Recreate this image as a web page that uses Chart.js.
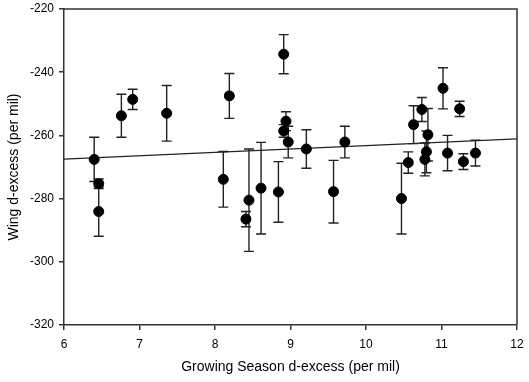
<!DOCTYPE html>
<html>
<head>
<meta charset="utf-8">
<script src="https://cdn.jsdelivr.net/npm/chart.js@4.4.1/dist/chart.umd.min.js"></script>
<style>
  html, body { margin: 0; padding: 0; background: #fff; }
  #wrap { width: 529px; height: 382px; position: relative; }
</style>
</head>
<body>
<div id="wrap"><canvas id="grafico"></canvas></div>
<script>
// growing season d-excess (x), wing d-excess (y) and its error (+/-)
const seasonX = [6.40, 6.46, 6.46, 6.76, 6.91, 7.36, 8.11, 8.19, 8.41, 8.45, 8.61, 8.84, 8.91, 8.91, 8.94, 8.97,
  9.21, 9.57, 9.72, 10.47, 10.56, 10.63, 10.74, 10.78, 10.80, 10.82, 11.02, 11.08, 11.24, 11.29, 11.45];
const wingY = [-267.6, -275.3, -284.1, -253.8, -248.6, -253.0, -273.9, -247.5, -286.5, -280.5, -276.7, -277.9, -234.3, -258.6, -255.5, -262.1,
  -264.3, -277.8, -262.1, -280.0, -268.6, -256.6, -251.8, -267.6, -265.2, -259.8, -245.1, -265.6, -251.6, -268.3, -265.6];
const wingErr = [7.0, 1.5, 7.8, 6.8, 3.2, 8.8, 8.8, 7.1, 2.4, 16.2, 14.5, 9.6, 6.2, 2.0, 3.0, 5.0,
  6.1, 9.9, 5.0, 11.2, 3.4, 6.0, 3.8, 5.2, 6.6, 8.3, 6.5, 5.6, 2.4, 2.5, 4.1];
// regression line end points
const lineX = [6, 12];
const lineY = [-267.5, -261.1];
const xTicks = [6, 7, 8, 9, 10, 11, 12];
const yTicks = [-320, -300, -280, -260, -240, -220];

const colorEje = '#333333';

const puntos = seasonX.map((x, i) => ({ x: x, y: wingY[i] }));
const linea = lineX.map((x, i) => ({ x: x, y: lineY[i] }));

// error bars drawn behind the points
const barrasError = {
  id: 'barrasError',
  beforeDatasetsDraw(chart) {
    const ctx = chart.ctx;
    const sx = chart.scales.x;
    const sy = chart.scales.y;
    ctx.save();
    ctx.strokeStyle = '#222222';
    ctx.lineWidth = 1.4;
    seasonX.forEach((x, i) => {
      const px = sx.getPixelForValue(x);
      const top = sy.getPixelForValue(wingY[i] + wingErr[i]);
      const bot = sy.getPixelForValue(wingY[i] - wingErr[i]);
      ctx.beginPath();
      ctx.moveTo(px, top);
      ctx.lineTo(px, bot);
      ctx.moveTo(px - 5, top);
      ctx.lineTo(px + 5, top);
      ctx.moveTo(px - 5, bot);
      ctx.lineTo(px + 5, bot);
      ctx.stroke();
    });
    ctx.restore();
  }
};

// top and right border of the frame
const marco = {
  id: 'marco',
  afterDraw(chart) {
    const a = chart.chartArea;
    const ctx = chart.ctx;
    ctx.save();
    ctx.strokeStyle = colorEje;
    ctx.lineWidth = 1.5;
    ctx.beginPath();
    ctx.moveTo(a.left, a.top);
    ctx.lineTo(a.right, a.top);
    ctx.lineTo(a.right, a.bottom);
    ctx.stroke();
    ctx.restore();
  }
};

const ctx = document.getElementById('grafico').getContext('2d');
const grafico = new Chart(ctx, {
  type: 'scatter',
  data: {
    datasets: [
      {
        label: 'regresion',
        type: 'line',
        data: linea,
        borderColor: '#222222',
        borderWidth: 1.2,
        pointRadius: 0,
        fill: false,
        order: 2
      },
      {
        label: 'wing',
        data: puntos,
        backgroundColor: '#000000',
        borderColor: '#000000',
        pointRadius: 5,
        pointHoverRadius: 5,
        order: 1
      }
    ]
  },
  options: {
    responsive: true,
    maintainAspectRatio: false,
    animation: false,
    events: [],
    layout: { padding: { top: 9, right: 12, left: 0, bottom: 0 } },
    plugins: {
      legend: { display: false },
      tooltip: { enabled: false }
    },
    scales: {
      x: {
        type: 'linear',
        min: 6,
        max: 12,
        afterFit: (scale) => {
          scale.height = 57;
          scale.paddingLeft = 0;
          scale.paddingRight = 0;
        },
        afterBuildTicks: (scale) => { scale.ticks = xTicks.map((v) => ({ value: v })); },
        grid: { display: true, drawOnChartArea: false, drawTicks: true, tickLength: 5, color: colorEje, lineWidth: 1.5 },
        border: { display: true, color: colorEje, width: 1.5 },
        ticks: { color: '#000', padding: 7, font: { family: 'Liberation Sans, Arial', size: 12 } },
        title: {
          display: true,
          text: 'Growing Season d-excess (per mil)',
          color: '#000',
          font: { family: 'Liberation Sans, Arial', size: 14 },
          padding: { top: 0, bottom: 6 }
        }
      },
      y: {
        type: 'linear',
        min: -320,
        max: -220,
        afterFit: (scale) => {
          scale.width = 64;
          scale.paddingTop = 0;
          scale.paddingBottom = 0;
        },
        afterBuildTicks: (scale) => { scale.ticks = yTicks.map((v) => ({ value: v })); },
        grid: { display: true, drawOnChartArea: false, drawTicks: true, tickLength: 5, color: colorEje, lineWidth: 1.5 },
        border: { display: true, color: colorEje, width: 1.5 },
        ticks: { color: '#000', padding: 5, font: { family: 'Liberation Sans, Arial', size: 12 } },
        title: {
          display: true,
          text: 'Wing d-excess (per mil)',
          color: '#000',
          font: { family: 'Liberation Sans, Arial', size: 14 },
          padding: { top: 6, bottom: 0 }
        }
      }
    }
  },
  plugins: [barrasError, marco]
});
</script>
</body>
</html>
